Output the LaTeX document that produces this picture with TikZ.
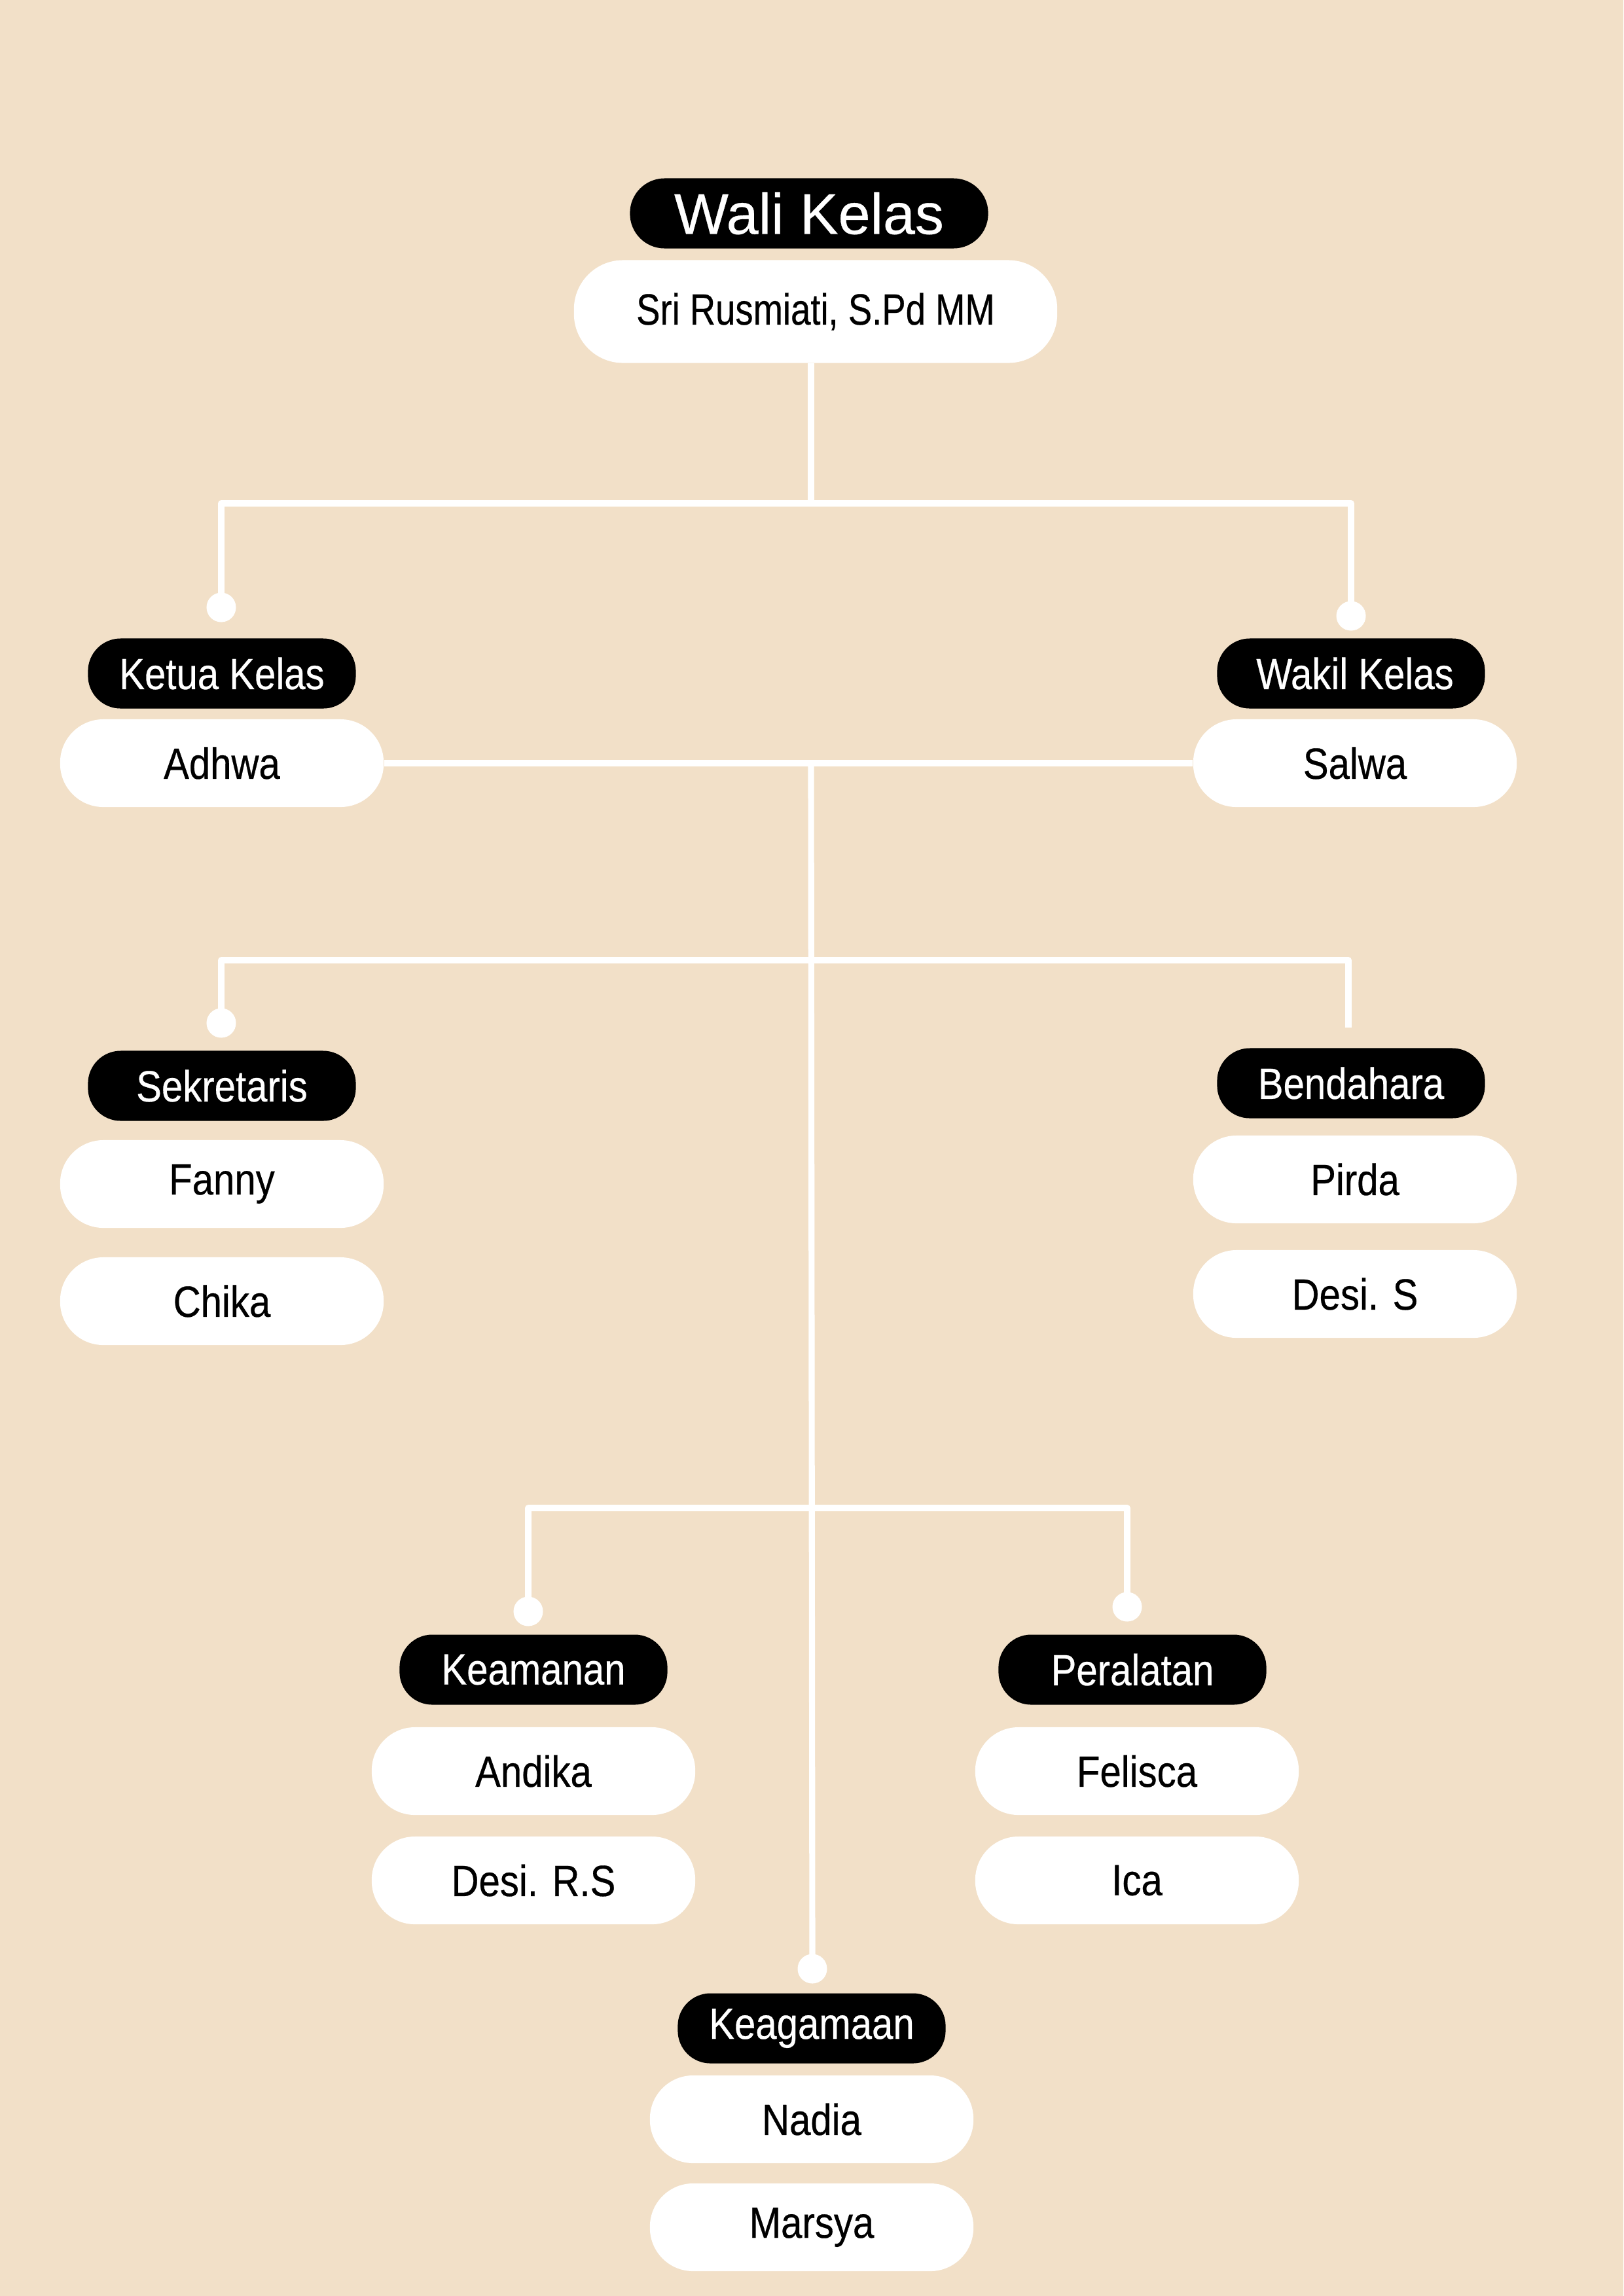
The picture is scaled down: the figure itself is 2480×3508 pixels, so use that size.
\documentclass[tikz,border=0pt]{standalone}
\usepackage{fontspec}
\setmainfont{Liberation Sans}[FakeStretch=0.87,FakeBold=0.4]
\newfontfamily\walifont{Liberation Sans}[FakeBold=0.4]
\newfontfamily\srifont{Liberation Sans}[FakeStretch=0.815,FakeBold=0.4]
\definecolor{bg}{RGB}{242,224,200}
\begin{document}
\begin{tikzpicture}[x=0.01cm,y=-0.01cm,
  role/.style={fill=black,text=white,rounded corners=0.5cm,minimum width=4.09cm,minimum height=1.07cm,inner sep=0pt,font=\fontsize{19}{23}\selectfont},
  person/.style={fill=white,text=black,rounded corners=0.66cm,minimum width=4.94cm,minimum height=1.34cm,inner sep=0pt,font=\fontsize{19}{23}\selectfont},
  conn/.style={draw=white,line width=2.6pt,line join=round},
  dot/.style={circle,fill=white,minimum size=0.45cm,inner sep=0pt}]
\useasboundingbox (0,0) rectangle (2480,3508);
\fill[bg] (0,0) rectangle (2480,3508);

% top
\node[role,minimum width=5.47cm,rounded corners=0.53cm,font=\walifont\fontsize{25}{30}\selectfont] (wali) at (1236,326) {Wali Kelas};
\node[person,minimum width=7.38cm,minimum height=1.57cm,rounded corners=0.75cm,font=\srifont\fontsize{19}{23}\selectfont] (sri) at (1246,476) {Sri Rusmiati, S.Pd MM};

% junctions
\coordinate (j1) at (1239,769);
\coordinate (j2) at (1239,1166);
\coordinate (j3) at (1239,1467);
\coordinate (j4) at (1239,2304);
\coordinate (bend) at (2060,1570);

% dots
\node[dot] (dK) at (338,928) {};
\node[dot] (dW) at (2064,941) {};
\node[dot] (dS) at (338,1563) {};
\node[dot] (dKm) at (807,2462) {};
\node[dot] (dP) at (1722,2455) {};
\node[dot] (dKg) at (1241,3008) {};

% ketua / wakil
\node[role] (ketua) at (339,1029) {Ketua Kelas};
\node[person] (adhwa) at (339,1166) {Adhwa};
\node[role] (wakil) at (2064,1029) {\hspace{0.12cm}Wakil Kelas};
\node[person] (salwa) at (2070,1166) {Salwa};

% sekretaris / bendahara
\node[role] (sekr) at (339,1659) {Sekretaris};
\node[person] (fanny) at (339,1809) {Fanny};
\node[person] (chika) at (339,1988) {Chika};
\node[role] (bend2) at (2064,1655) {Bendahara};
\node[person] (pirda) at (2070,1802) {Pirda};
\node[person] (desis) at (2070,1977) {Desi. S};

% keamanan / peralatan
\node[role] (keam) at (815,2551) {Keamanan};
\node[person] (andika) at (815,2706) {Andika};
\node[person] (desirs) at (815,2873) {Desi. R.S};
\node[role] (peral) at (1730,2551) {Peralatan};
\node[person] (felisca) at (1737,2706) {Felisca};
\node[person] (ica) at (1737,2873) {Ica};

% keagamaan
\node[role] (keag) at (1240,3099) {Keagamaan};
\node[person] (nadia) at (1240,3238) {Nadia};
\node[person] (marsya) at (1240,3403) {Marsya};

% connectors
\draw[conn] (sri.south -| j1) -- (j1);
\draw[conn] (dK.center) |- (j1) -| (dW.center);
\draw[conn] (adhwa.east) -- (j2) -- (salwa.west);
\draw[conn] (j2) -- (dKg.center);
\draw[conn] (dS.center) |- (j3) -| (bend);
\draw[conn] (dKm.center) |- (j4) -| (dP.center);
\end{tikzpicture}
\end{document}
